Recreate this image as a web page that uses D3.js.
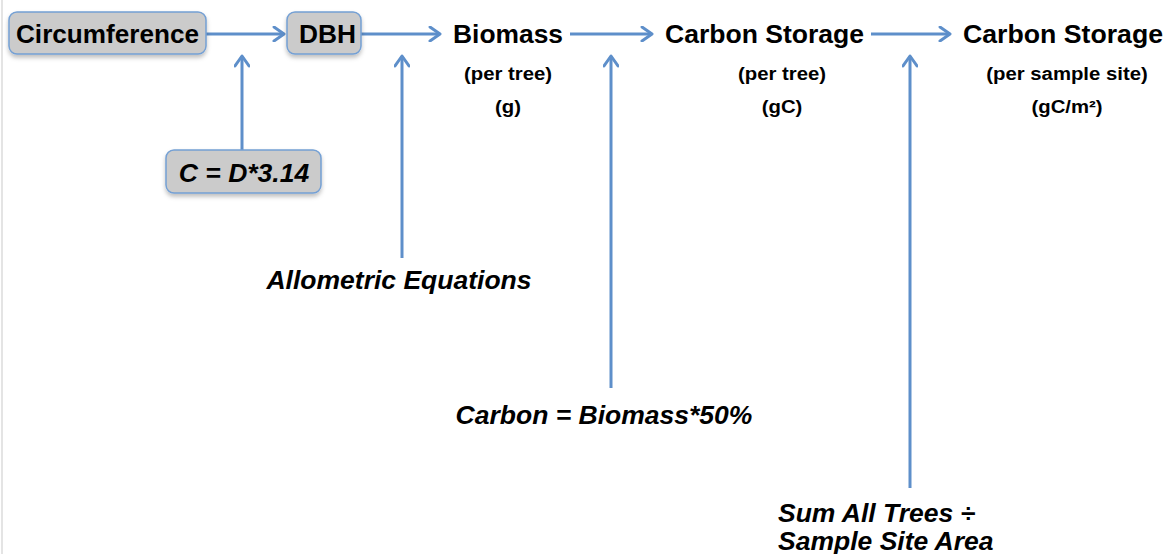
<!DOCTYPE html>
<meta charset="utf-8" />
<style>
  body { margin: 0; background: #fff; }
  text { font-family: "Liberation Sans", Arial, sans-serif; font-weight: bold; fill: #000; }
</style>
<svg width="1175" height="554"></svg>
<script src="https://d3js.org/d3.v7.min.js"></script>
<script>
    // diagram content
    var stepNames = ["Circumference", "DBH", "Biomass", "Carbon Storage", "Carbon Storage"];
    var stepBoxed = [true, true, false, false, false];
    var stepSub1 = ["", "", "(per tree)", "(per tree)", "(per sample site)"];
    var stepSub2 = ["", "", "(g)", "(gC)", "(gC/m²)"];
    var conversions = [["C = D*3.14"], ["Allometric Equations"], ["Carbon = Biomass*50%"], ["Sum All Trees ÷", "Sample Site Area"]];

    // layout (pixels)
    var stepLeft = [9, 287, 453, 665, 963];
    var stepRight = [206, 361, 563, 864, 1163];
    var textLeft = [16, 299, 453, 665, 963];
    var textRight = [199, 356, 563, 864, 1163];
    var subCenter = [0, 0, 508, 782, 1067];
    var arrowX = [242, 402, 611, 910];
    var arrowBottom = [150, 258, 388, 488];
    var rowY = 34, tipY = 56;

    var blue = "#5e8fca";
    var svg = d3.select("svg");

    svg.append("line").attr("x1", 2).attr("x2", 2).attr("y1", 0).attr("y2", 554)
        .attr("stroke", "#e4e4e4").attr("stroke-width", 2);

    var defs = svg.append("defs");
    defs.append("marker").attr("id", "head")
        .attr("viewBox", "-12 -8 14 16").attr("markerWidth", 14).attr("markerHeight", 16)
        .attr("markerUnits", "userSpaceOnUse").attr("orient", "auto")
        .attr("refX", 0).attr("refY", 0)
        .append("path").attr("d", "M-10,-7 L0,0 L-10,7")
        .attr("fill", "none").attr("stroke", blue).attr("stroke-width", 3)
        .attr("stroke-linecap", "round").attr("stroke-linejoin", "round");

    var shadow = defs.append("filter").attr("id", "sh").attr("x", "-10%").attr("y", "-20%").attr("width", "130%").attr("height", "160%");
    shadow.append("feDropShadow").attr("dx", 0).attr("dy", 3).attr("stdDeviation", 2).attr("flood-color", "#000").attr("flood-opacity", 0.25);

    function box(x0, y0, x1, y1) {
        svg.append("rect").attr("x", x0).attr("y", y0).attr("width", x1 - x0).attr("height", y1 - y0)
            .attr("rx", 8).attr("fill", "#cbcbcb").attr("stroke", "#74a0d4").attr("stroke-width", 1.5)
            .attr("filter", "url(#sh)");
    }

    // horizontal arrows between steps
    d3.range(stepNames.length - 1).forEach(function (i) {
        var gap = stepBoxed[i] ? 0 : 7;
        svg.append("line")
            .attr("x1", stepRight[i] + gap).attr("x2", stepLeft[i + 1] - (stepBoxed[i + 1] ? 3 : 13))
            .attr("y1", rowY).attr("y2", rowY)
            .attr("stroke", blue).attr("stroke-width", 3).attr("marker-end", "url(#head)");
    });

    // vertical arrows from conversions
    arrowX.forEach(function (x, i) {
        svg.append("line").attr("x1", x).attr("x2", x)
            .attr("y1", arrowBottom[i]).attr("y2", tipY)
            .attr("stroke", blue).attr("stroke-width", 3).attr("marker-end", "url(#head)");
    });

    // steps
    stepNames.forEach(function (name, i) {
        if (stepBoxed[i]) box(stepLeft[i], 12, stepRight[i], 54);
        svg.append("text").attr("x", textLeft[i]).attr("y", 43)
            .attr("font-size", 25)
            .attr("textLength", textRight[i] - textLeft[i]).attr("lengthAdjust", "spacingAndGlyphs")
            .text(name);
        if (stepSub1[i]) {
            [stepSub1[i], stepSub2[i]].forEach(function (t, j) {
                svg.append("text")
                    .attr("transform", "translate(" + subCenter[i] + "," + (80 + j * 33) + ") scale(1.13,1)")
                    .attr("text-anchor", "middle").attr("font-size", 18).text(t);
            });
        }
    });

    // conversion labels
    box(166, 150, 321, 193);
    var convX = [244, 399, 604, 778];
    var convY = [182, 289, 424, 522];
    conversions.forEach(function (lines, i) {
        lines.forEach(function (t, j) {
            svg.append("text").attr("x", convX[i]).attr("y", convY[i] + j * 28)
                .attr("text-anchor", i === 3 ? "start" : "middle")
                .attr("font-size", 26.5).attr("font-style", "italic").text(t);
        });
    });
</script>
